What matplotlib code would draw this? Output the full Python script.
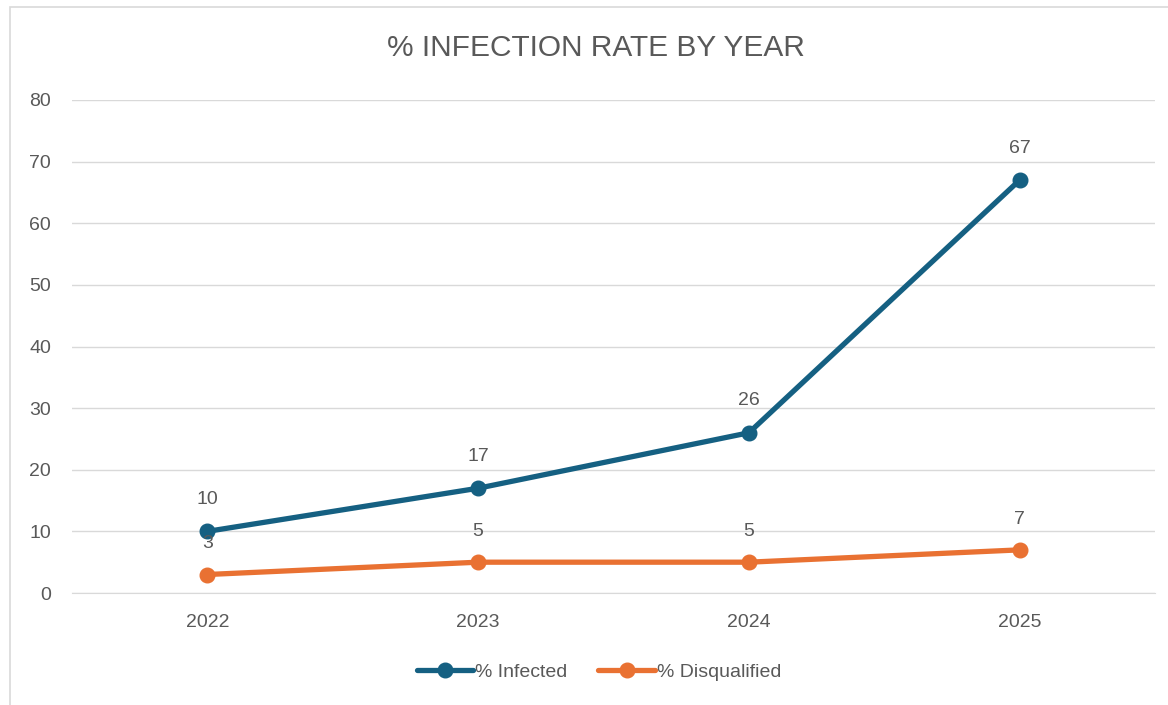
import matplotlib.pyplot as plt
from matplotlib.patches import Rectangle

years = ["2022", "2023", "2024", "2025"]
infected = [10, 17, 26, 67]
disqualified = [3, 5, 5, 7]
series_names = ["% Infected", "% Disqualified"]
y_ticks = [0, 10, 20, 30, 40, 50, 60, 70, 80]

blue = "#156082"
orange = "#E97132"
text_grey = "#595959"

plt.rcParams["font.family"] = ["Liberation Sans", "DejaVu Sans"]

W, H = 1168, 705
fig = plt.figure(figsize=(W / 100, H / 100), dpi=100)
fig.patches.append(Rectangle((10 / W, -0.1), 1.2, (H - 7) / H + 0.1, transform=fig.transFigure,
                             fill=False, edgecolor="#D9D9D9", linewidth=1.2))

ax = fig.add_axes([72 / W, (H - 593) / H, (1155 - 72) / W, (593 - 100) / H])
x = range(len(years))
ax.plot(x, infected, color=blue, lw=3.8, marker="o", ms=10.5, label=series_names[0], zorder=3,
        solid_capstyle="round")
ax.plot(x, disqualified, color=orange, lw=3.8, marker="o", ms=10.5, label=series_names[1], zorder=3,
        solid_capstyle="round")

for xi, v in zip(x, infected):
    ax.annotate(str(v), (xi, v), xytext=(0, 23), textcoords="offset points", ha="center",
                va="center", fontsize=14, color=text_grey)
for xi, v in zip(x, disqualified):
    ax.annotate(str(v), (xi, v), xytext=(0, 22), textcoords="offset points", ha="center",
                va="center", fontsize=14, color=text_grey)

ax.set_xlim(-0.5, len(years) - 0.5)
ax.set_ylim(0, 80)
ax.set_yticks(y_ticks)
ax.set_xticks(list(x))
ax.set_xticklabels(years)
ax.tick_params(length=0, labelsize=14, colors=text_grey)
ax.tick_params(axis="y", pad=15)
ax.tick_params(axis="x", pad=15)
ax.grid(axis="y", color="#D9D9D9", lw=1)
ax.set_axisbelow(True)
for s in ["top", "right", "left"]:
    ax.spines[s].set_visible(False)
ax.spines["bottom"].set_color("#D9D9D9")

fig.text(596 / W, 1 - 48 / H, "% INFECTION RATE BY YEAR", ha="center", va="center",
         fontsize=21.5, color=text_grey)

fig.legend(loc="center", bbox_to_anchor=(599 / W, 1 - 672 / H), ncol=2, frameon=False,
           fontsize=14, labelcolor=text_grey, handlelength=2.9, handletextpad=0.1,
           columnspacing=1.6)

fig.savefig("out.png", dpi=100)
